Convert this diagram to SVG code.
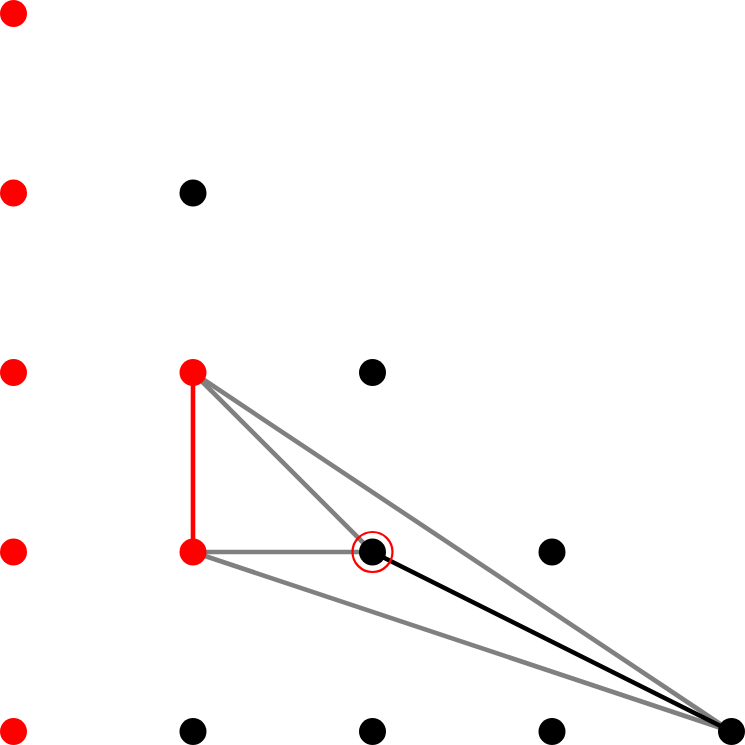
<svg xmlns="http://www.w3.org/2000/svg" width="745" height="745" viewBox="0 0 745 745">
<style>
.e{stroke-width:4.6;fill:none}
.g{stroke:#808080}
.k{stroke:#000}
.r{stroke:#ff0000}
.nb{fill:#000}
.nr{fill:#ff0000}
</style>
<rect width="745" height="745" fill="#fff"/>
<g id="connectors">
<line class="e g" x1="193" y1="372.5" x2="372.5" y2="552"/>
<line class="e g" x1="193" y1="372.5" x2="731.5" y2="731.5"/>
<line class="e g" x1="193" y1="552" x2="372.5" y2="552"/>
<line class="e g" x1="193" y1="552" x2="731.5" y2="731.5"/>
<line class="e k" x1="372.5" y1="552" x2="731.5" y2="731.5"/>
<line class="e r" x1="193" y1="372.5" x2="193" y2="552"/>
</g>
<g id="n00"><circle class="nr" cx="13.5" cy="13.5" r="13.5"/></g>
<g id="n01"><circle class="nr" cx="13.5" cy="193" r="13.5"/></g>
<g id="n02"><circle class="nr" cx="13.5" cy="372.5" r="13.5"/></g>
<g id="n03"><circle class="nr" cx="13.5" cy="552" r="13.5"/></g>
<g id="n04"><circle class="nr" cx="13.5" cy="731.5" r="13.5"/></g>
<g id="n11"><circle class="nb" cx="193" cy="193" r="13.5"/></g>
<g id="n12"><circle class="nr" cx="193" cy="372.5" r="13.5"/></g>
<g id="n13"><circle class="nr" cx="193" cy="552" r="13.5"/></g>
<g id="n14"><circle class="nb" cx="193" cy="731.5" r="13.5"/></g>
<g id="n22"><circle class="nb" cx="372.5" cy="372.5" r="13.5"/></g>
<g id="n23"><circle class="nb" cx="372.5" cy="552" r="13.5"/><circle cx="372.5" cy="552" r="20" fill="none" stroke="#ff0000" stroke-width="2.2"/></g>
<g id="n24"><circle class="nb" cx="372.5" cy="731.5" r="13.5"/></g>
<g id="n33"><circle class="nb" cx="552" cy="552" r="13.5"/></g>
<g id="n34"><circle class="nb" cx="552" cy="731.5" r="13.5"/></g>
<g id="n44"><circle class="nb" cx="731.5" cy="731.5" r="13.5"/></g>
</svg>
